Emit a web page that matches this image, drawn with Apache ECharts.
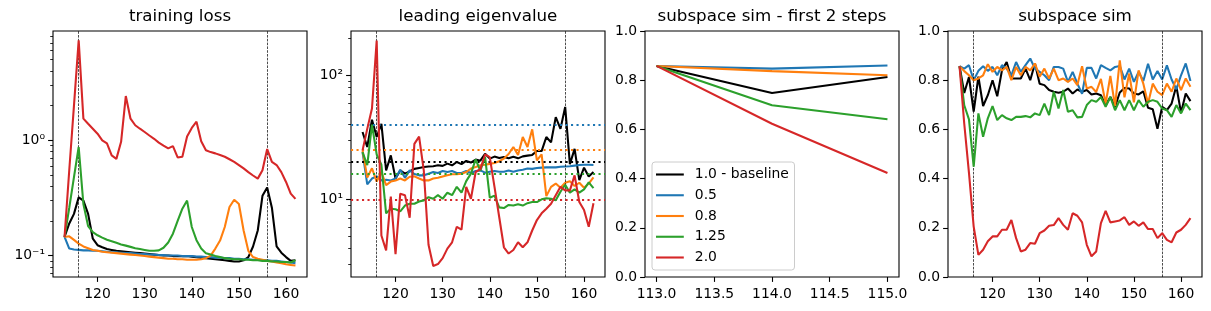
<!DOCTYPE html>
<html><head><meta charset="utf-8">
<script src="https://cdn.jsdelivr.net/npm/echarts@6/dist/echarts.min.js"></script>
<style>html,body{margin:0;padding:0;background:#fff}#c{width:1211px;height:311px}</style>
</head><body><div id="c"></div>
<script>
const steps = [113,114,115,116,117,118,119,120,121,122,123,124,125,126,127,128,129,130,131,132,133,134,135,136,137,138,139,140,141,142,143,144,145,146,147,148,149,150,151,152,153,154,155,156,157,158,159,160,161,162];
const firstSteps = [113, 114, 115];
const seriesNames = ['1.0 - baseline', '0.5', '0.8', '1.25', '2.0'];
const colors = ['#000000', '#1f77b4', '#ff7f0e', '#2ca02c', '#d62728'];
const eigRefs = [20, 40, 25, 16, 10];
const markSteps = [116, 156];

// training loss
const lossBaseline = [0.145,0.19,0.23,0.32,0.30,0.23,0.14,0.123,0.118,0.114,0.112,0.110,0.109,0.108,0.107,0.106,0.105,0.104,0.103,0.102,0.101,0.100,0.100,0.099,0.099,0.099,0.099,0.098,0.097,0.096,0.095,0.094,0.093,0.092,0.091,0.090,0.089,0.089,0.091,0.097,0.12,0.165,0.33,0.39,0.26,0.12,0.106,0.097,0.090,0.091];
const loss05 = [0.145,0.115,0.113,0.112,0.111,0.111,0.110,0.110,0.109,0.108,0.107,0.107,0.106,0.105,0.105,0.104,0.103,0.103,0.102,0.102,0.101,0.101,0.100,0.100,0.100,0.099,0.099,0.099,0.098,0.098,0.097,0.097,0.096,0.096,0.095,0.095,0.094,0.094,0.093,0.093,0.092,0.092,0.091,0.091,0.090,0.090,0.089,0.088,0.087,0.086];
const loss08 = [0.145,0.147,0.137,0.127,0.120,0.116,0.112,0.110,0.108,0.107,0.106,0.105,0.104,0.103,0.102,0.101,0.100,0.099,0.098,0.097,0.096,0.095,0.094,0.094,0.093,0.093,0.092,0.092,0.092,0.093,0.095,0.100,0.115,0.135,0.177,0.264,0.305,0.28,0.165,0.11,0.097,0.094,0.092,0.090,0.089,0.087,0.086,0.084,0.083,0.082];
const loss125 = [0.145,0.26,0.48,0.875,0.28,0.18,0.16,0.15,0.143,0.137,0.133,0.129,0.125,0.122,0.119,0.116,0.114,0.112,0.110,0.110,0.111,0.117,0.130,0.155,0.20,0.255,0.30,0.177,0.136,0.115,0.105,0.102,0.099,0.097,0.095,0.094,0.093,0.093,0.092,0.092,0.091,0.091,0.090,0.090,0.089,0.089,0.088,0.088,0.087,0.091];
const loss20 = [0.145,0.55,2.0,7.36,1.54,1.39,1.26,1.14,1.0,0.94,0.74,0.69,0.97,2.42,1.54,1.35,1.26,1.18,1.10,1.03,0.955,0.90,0.85,0.89,0.71,0.72,1.08,1.28,1.45,0.98,0.82,0.79,0.77,0.745,0.72,0.685,0.65,0.61,0.57,0.53,0.495,0.465,0.55,0.84,0.65,0.61,0.53,0.435,0.345,0.31];

// leading eigenvalue
const eigBaseline = [34.9,26.4,43.8,31.8,40.7,17.1,22.6,14.7,17.1,16.1,16.8,17.6,17.9,18.2,18.4,18.5,18.8,18.6,19.4,18.8,20.0,19.2,20.4,19.8,20.9,20.5,23.3,21.3,22.1,21.5,21.9,21.4,22.0,21.4,22.2,22.5,22.8,24.5,24.5,31.8,28.8,46,37,55.6,19.2,25.5,14.3,18,15.3,16.6];
const eig05 = [24,13.2,14.7,15.3,14.2,14.4,14.2,14.7,17.3,14.9,17.1,16.0,15.6,15.6,16.1,16.6,16.3,16.9,16.6,16.9,16.3,16.3,16.9,16.3,16.9,17.1,16.4,16.7,16.9,16.7,16.7,17.1,16.7,17.1,17.3,17.7,17.6,17.9,18.0,18.1,18.1,18.1,18.3,18.4,18.5,18.7,18.9,19.0,19.0,18.9];
const eig08 = [24.8,15.0,17.8,13.9,16.6,13.0,13.9,14.2,14.7,14.2,15.2,15.3,14.7,14.2,14.2,14.7,14.9,15.3,15.6,15.9,15.9,16.1,16.6,17.7,18.2,18.8,19.0,19.3,19.6,20.3,21.3,23.2,26.4,22.8,31.8,26.4,36.7,20.6,23.0,10.6,12.6,13.4,12.4,13.6,14.0,12.8,13.6,12.4,13.4,15.0];
const eig125 = [24,18.9,40,23,19,7.7,8.4,8.3,8.0,8.9,9.2,9.2,9.6,9.8,10.4,10.1,10.8,10.1,11.3,10.8,12.6,11.3,14.0,16.1,21.0,17.0,22.0,10.3,10.7,8.6,8.5,9.0,8.9,9.1,8.9,9.3,9.5,9.5,10.0,10.2,10.1,9.8,11.5,13.1,11.3,12.0,11.3,12.0,13.7,12.3];
const eig20 = [24.8,37,54,191,5.1,3.87,10.5,3.6,11.1,10.8,7.1,28,32,17,4.3,2.9,3.0,3.35,4.0,4.5,6.0,5.7,12.6,10.1,16.6,17.5,23,21.9,12.6,7.2,4.1,3.65,3.9,4.5,4.1,4.5,5.6,6.8,7.7,8.4,9.2,10.8,12.6,11.8,11.8,15.6,9.5,8.2,6.0,9.3];

// subspace sim - first 2 steps
const firstBaseline = [0.858, 0.748, 0.813];
const first05 = [0.858, 0.847, 0.860];
const first08 = [0.858, 0.837, 0.820];
const first125 = [0.858, 0.698, 0.641];
const first20 = [0.858, 0.623, 0.423];

// subspace sim
const simBaseline = [0.857,0.748,0.813,0.672,0.814,0.695,0.739,0.80,0.735,0.84,0.874,0.807,0.807,0.807,0.847,0.80,0.868,0.786,0.78,0.76,0.753,0.749,0.753,0.766,0.746,0.762,0.753,0.76,0.742,0.746,0.739,0.698,0.732,0.692,0.75,0.768,0.766,0.746,0.742,0.755,0.688,0.682,0.603,0.692,0.678,0.705,0.776,0.668,0.746,0.715];
const sim05 = [0.857,0.847,0.861,0.80,0.838,0.857,0.838,0.854,0.82,0.861,0.847,0.82,0.874,0.834,0.861,0.888,0.847,0.834,0.82,0.80,0.854,0.854,0.847,0.793,0.834,0.786,0.745,0.85,0.85,0.807,0.861,0.85,0.84,0.854,0.858,0.803,0.847,0.793,0.834,0.797,0.867,0.803,0.837,0.803,0.86,0.803,0.763,0.82,0.868,0.797];
const sim08 = [0.857,0.837,0.82,0.80,0.807,0.82,0.865,0.834,0.854,0.84,0.854,0.80,0.854,0.82,0.854,0.84,0.868,0.814,0.847,0.807,0.847,0.80,0.807,0.793,0.807,0.78,0.857,0.766,0.773,0.752,0.805,0.705,0.817,0.695,0.881,0.73,0.827,0.71,0.84,0.786,0.705,0.786,0.753,0.739,0.786,0.753,0.807,0.76,0.807,0.773];
const sim125 = [0.857,0.698,0.641,0.449,0.665,0.57,0.645,0.695,0.638,0.658,0.645,0.638,0.651,0.651,0.654,0.649,0.665,0.658,0.705,0.658,0.753,0.685,0.76,0.672,0.678,0.649,0.651,0.699,0.719,0.712,0.732,0.692,0.732,0.678,0.719,0.678,0.719,0.678,0.719,0.692,0.712,0.719,0.712,0.685,0.678,0.651,0.699,0.665,0.705,0.678];
const sim20 = [0.857,0.623,0.423,0.205,0.09,0.111,0.145,0.165,0.165,0.192,0.192,0.232,0.158,0.104,0.111,0.138,0.135,0.178,0.189,0.208,0.211,0.239,0.212,0.192,0.259,0.249,0.222,0.131,0.084,0.104,0.219,0.269,0.222,0.226,0.23,0.243,0.212,0.226,0.208,0.222,0.195,0.195,0.158,0.178,0.151,0.141,0.181,0.192,0.212,0.239];

const xTicks = [120, 130, 140, 150, 160];
const firstTicks = [113.0, 113.5, 114.0, 114.5, 115.0];
const lossTicks = [0.1, 1];
const lossMinor = [0.07,0.08,0.09,0.2,0.3,0.4,0.5,0.6,0.7,0.8,0.9,2,3,4,5,6,7,8];
const eigTicks = [10, 100];
const eigMinor = [3,4,5,6,7,8,9,20,30,40,50,60,70,80,90,200];
const simTicks = [0, 0.2, 0.4, 0.6, 0.8, 1.0];

const FONT = 'DejaVu Sans';
const FS = 13.9;
const LW = 2.08;
const sup = {'0':'\u2070','1':'\u00b9','2':'\u00b2','-':'\u207b'};
function pow10Label(v) {
  const e = Math.round(Math.log10(v));
  return '10' + String(e).split('').map(c => sup[c]).join('');
}

const grids = [
  {left: 53, top: 31, width: 254, height: 246},
  {left: 351, top: 31, width: 254, height: 246},
  {left: 645, top: 31, width: 254, height: 246},
  {left: 948, top: 31, width: 254, height: 246}
].map(g => Object.assign(g, {show: true, borderColor: '#000', borderWidth: 1.1, backgroundColor: 'transparent', containLabel: false}));

const titles = ['training loss', 'leading eigenvalue', 'subspace sim - first 2 steps', 'subspace sim'].map((t, i) => ({
  text: t, left: grids[i].left + grids[i].width / 2, top: 8, textAlign: 'center', padding: 0,
  textStyle: {fontFamily: FONT, fontSize: 16.7, fontWeight: 'normal', color: '#000'}
}));

function xAxis(grid, min, max, ticks, fmt) {
  return {
    type: 'value', gridIndex: grid, min: min, max: max,
    axisLine: {show: false},
    splitLine: {show: false},
    axisTick: {show: true, length: 4.9, lineStyle: {color: '#000', width: 1.1}, customValues: ticks},
    axisLabel: {customValues: ticks, margin: 10, fontFamily: FONT, fontSize: FS, color: '#000', formatter: fmt}
  };
}
function yAxis(grid, type, min, max, ticks, fmt) {
  const ax = {
    type: type, gridIndex: grid, min: min, max: max, position: 'left',
    axisLine: {show: false},
    splitLine: {show: false},
    axisTick: {show: true, length: 4.9, lineStyle: {color: '#000', width: 1.1}, customValues: ticks},
    axisLabel: {customValues: ticks, margin: 8, fontFamily: FONT, fontSize: FS, color: '#000', formatter: fmt}
  };
  if (type === 'log') ax.logBase = 10;
  return ax;
}
function minorAxis(grid, min, max, vals) {
  return {
    type: 'log', logBase: 10, gridIndex: grid, min: min, max: max, position: 'left',
    axisLine: {show: false}, splitLine: {show: false},
    axisTick: {show: true, length: 2.8, lineStyle: {color: '#000', width: 0.83}, customValues: vals},
    axisLabel: {show: false}
  };
}

const fmt1 = v => v.toFixed(1);
const xAxes = [
  xAxis(0, 110.55, 164.45, xTicks, v => String(v)),
  xAxis(1, 110.55, 164.45, xTicks, v => String(v)),
  xAxis(2, 112.9, 115.1, firstTicks, fmt1),
  xAxis(3, 110.55, 164.45, xTicks, v => String(v))
];
const yAxes = [
  yAxis(0, 'log', 0.0652, 8.87, lossTicks, pow10Label),
  yAxis(1, 'log', 2.36, 228, eigTicks, pow10Label),
  yAxis(2, 'value', 0, 1, simTicks, fmt1),
  yAxis(3, 'value', 0, 1, simTicks, fmt1),
  minorAxis(0, 0.0652, 8.87, lossMinor),
  minorAxis(1, 2.36, 228, eigMinor)
];

function zip(xs, ys) { return xs.map((x, i) => [x, ys[i]]); }
const vline = {
  silent: true, symbol: 'none', animation: false, label: {show: false},
  lineStyle: {color: '#000', width: 0.7, type: [2.6, 1.2], opacity: 1},
  emphasis: {disabled: true},
  data: markSteps.map(s => ({xAxis: s}))
};

const panels = [
  {grid: 0, xs: steps, data: [lossBaseline, loss05, loss08, loss125, loss20], vlines: true},
  {grid: 1, xs: steps, data: [eigBaseline, eig05, eig08, eig125, eig20], vlines: true, refs: true},
  {grid: 2, xs: firstSteps, data: [firstBaseline, first05, first08, first125, first20]},
  {grid: 3, xs: steps, data: [simBaseline, sim05, sim08, sim125, sim20], vlines: true}
];

const series = [];
panels.forEach(p => {
  if (p.vlines) {
    series.push({
      type: 'line', xAxisIndex: p.grid, yAxisIndex: p.grid, data: [], silent: true, animation: false,
      markLine: vline, z: 1
    });
  }
  p.data.forEach((arr, k) => {
    const s = {
      type: 'line', name: seriesNames[k], xAxisIndex: p.grid, yAxisIndex: p.grid,
      data: zip(p.xs, arr), showSymbol: false, symbol: 'none', animation: false,
      color: colors[k], lineStyle: {color: colors[k], width: LW}, emphasis: {disabled: true},
      z: 2 + k
    };
    if (p.refs) {
      s.markLine = {
        silent: true, symbol: 'none', animation: false, label: {show: false},
        lineStyle: {color: colors[k], width: LW, type: [2.1, 3.4], opacity: 1},
        emphasis: {disabled: true},
        data: [{yAxis: eigRefs[k]}]
      };
    }
    series.push(s);
  });
});

const chart = echarts.init(document.getElementById('c'), null, {renderer: 'canvas'});
chart.setOption({
  backgroundColor: '#fff',
  animation: false,
  title: titles,
  grid: grids,
  xAxis: xAxes,
  yAxis: yAxes,
  legend: {
    data: seriesNames.map((n, k) => ({name: n, icon: 'rect', itemStyle: {color: colors[k]}})),
    orient: 'vertical', left: 652, top: 162,
    itemWidth: 27.8, itemHeight: 2.1, itemGap: 6.75,
    padding: [5.5, 5.6, 5.5, 4],
    borderColor: '#cccccc', borderWidth: 1, borderRadius: 3,
    backgroundColor: 'rgba(255,255,255,0.8)',
    selectedMode: false,
    textStyle: {fontFamily: FONT, fontSize: FS, color: '#000', lineHeight: 14, padding: [0, 0, 0, 6]}
  },
  series: series
});
</script></body></html>
